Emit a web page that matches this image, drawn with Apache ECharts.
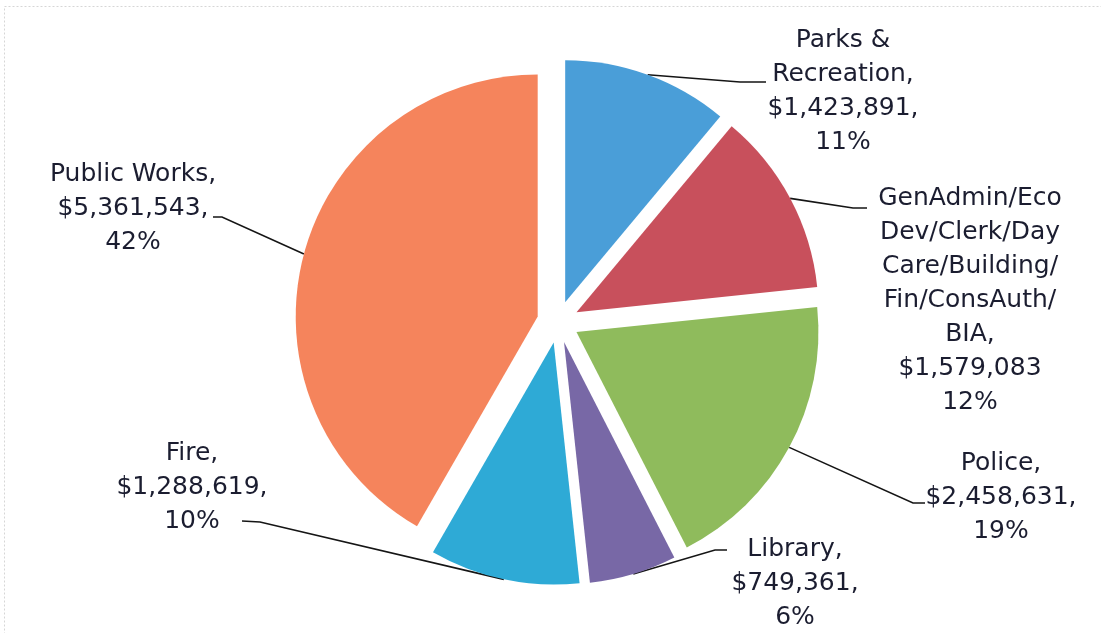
<!DOCTYPE html>
<html>
<head>
<meta charset="utf-8">
<script src="https://cdn.jsdelivr.net/npm/echarts@6/dist/echarts.min.js"></script>
<style>
html,body{margin:0;padding:0;background:#fff;}
#c{width:1101px;height:633px;}
</style>
</head>
<body>
<div id="c"></div>
<script>
var categories = ['Parks & Recreation', 'GenAdmin/Eco Dev/Clerk/Day Care/Building/Fin/ConsAuth/BIA', 'Police', 'Library', 'Fire', 'Public Works'];
var labelNames = ['Parks &\nRecreation', 'GenAdmin/Eco\nDev/Clerk/Day\nCare/Building/\nFin/ConsAuth/\nBIA', 'Police', 'Library', 'Fire', 'Public Works'];
var values = [1423891, 1579083, 2458631, 749361, 1288619, 5361543];
var valueSep = [',', '', ',', ',', ',', ','];
var colors = ['#4a9ed8', '#c8505c', '#8fbb5c', '#7868a6', '#2eaad6', '#f5845c'];

// layout: label block centres and label-line end/elbow points (page coordinates)
var labelPos = [[843, 91], [970, 300], [1001, 497], [795, 583], [192, 487], [133, 208]];
var lineEnd = [[766, 82], [867, 208], [925, 503], [727, 550], [242, 521], [213, 217]];
var lineElbow = [[740, 82], [853, 208], [913, 503], [715, 550], [260, 522], [222, 217]];
var OFFSET = 21;

function fmtMoney(v) {
  return '$' + v.toString().replace(/\B(?=(\d{3})+(?!\d))/g, ',');
}

var total = values.reduce(function (a, b) { return a + b; }, 0);
// selected-offset translation of each slice (labels live in slice-local coordinates)
function sliceShift(i) {
  var cum = 0;
  for (var k = 0; k < i; k++) cum += values[k];
  var th = 2 * Math.PI * (cum + values[i] / 2) / total;
  return [OFFSET * Math.sin(th), -OFFSET * Math.cos(th)];
}

var chart = echarts.init(document.getElementById('c'), null, {renderer: 'canvas'});
var data = categories.map(function (n, i) {
  return { name: n, value: values[i], selected: true, itemStyle: { color: colors[i] } };
});

chart.setOption({
  backgroundColor: '#ffffff',
  animation: false,
  graphic: [{
    type: 'rect',
    silent: true,
    shape: { x: 4.5, y: 6.5, width: 1110, height: 640 },
    style: { fill: 'none', stroke: '#d6d6d6', lineWidth: 1, lineDash: [2, 2] }
  }],
  series: [{
    type: 'pie',
    center: [558, 322],
    radius: [0, 242],
    startAngle: 90,
    clockwise: true,
    selectedMode: 'multiple',
    selectedOffset: OFFSET,
    data: data,
    emphasis: { disabled: true },
    itemStyle: { borderWidth: 0 },
    label: {
      show: true,
      position: 'outside',
      color: '#1b1d30',
      fontFamily: 'DejaVu Sans',
      fontSize: 25,
      lineHeight: 34,
      align: 'center',
      formatter: function (p) {
        var i = p.dataIndex;
        return labelNames[i] + ',\n' + fmtMoney(values[i]) + valueSep[i] + '\n' + Math.round(p.percent) + '%';
      }
    },
    labelLine: {
      show: true,
      length: 20,
      length2: 30,
      lineStyle: { color: '#151515', width: 1.6 }
    },
    labelLayout: function (params) {
      var i = params.dataIndex;
      var s = sliceShift(i);
      var r = params.labelRect;
      var ax = params.align === 'left' ? r.x : (params.align === 'right' ? r.x + r.width : r.x + r.width / 2);
      var cy = r.y + r.height / 2;
      var p0 = params.labelLinePoints[0];
      return {
        align: 'center',
        dx: labelPos[i][0] - s[0] - ax,
        dy: labelPos[i][1] - s[1] - cy,
        labelLinePoints: [
          [p0[0], p0[1]],
          [lineElbow[i][0] - s[0], lineElbow[i][1] - s[1]],
          [lineEnd[i][0] - s[0], lineEnd[i][1] - s[1]]
        ]
      };
    }
  }]
});
</script>
</body>
</html>
